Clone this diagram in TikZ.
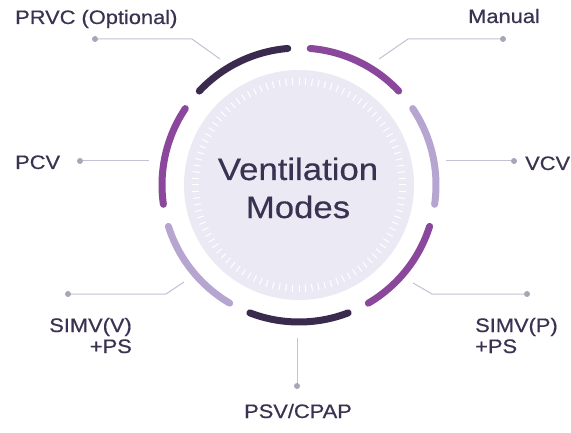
\documentclass[tikz,border=0pt]{standalone}
\usepackage{fontspec}
\setmainfont[FakeStretch=1.12,FakeBold=0.5]{Liberation Sans}
\usetikzlibrary{calc}
\definecolor{arcdark}{HTML}{3A2B4E}
\definecolor{arcpurple}{HTML}{8B479B}
\definecolor{arclight}{HTML}{B6A5D0}
\definecolor{discfill}{HTML}{EBE9F4}
\definecolor{txt}{HTML}{3A3250}
\definecolor{conline}{HTML}{C5C1D2}
\definecolor{condot}{HTML}{A9A5B9}
\tikzset{
  ringarc/.style={line width=7pt, line cap=round},
  lbl/.style={inner sep=0pt, text=txt, font=\fontsize{19.5}{22}\selectfont},
  title/.style={inner sep=0pt, text=txt, font=\fontsize{31}{36}\selectfont},
  conn/.style={draw=conline, line width=1pt},
  dotmark/.style={circle, fill=condot, inner sep=0pt, minimum size=6pt},
  tickmark/.style={draw=white, line width=1pt},
}
\begin{document}
\begin{tikzpicture}[x=1pt,y=1pt]
\useasboundingbox (0,0) rectangle (571,432);
\fill[white] (0,0) rectangle (571,432);
\coordinate (c) at (299,247);
% disc
\fill[discfill] (c) circle[radius=115];
\foreach \a in {0,3.6,...,356.5}
  \draw[tickmark] ($(c)+(\a:100)$) -- ($(c)+(\a:107)$);
% ring arcs
\def\R{137}
\foreach \s/\e/\col in {-111/-69/arcdark, -59.6/-17.6/arcpurple, -8.1/33.9/arclight,
  43.3/85.3/arcpurple, 94.7/136.7/arcdark, 146.1/188.1/arcpurple, 197.6/239.6/arclight}
  \draw[ringarc, draw=\col] ($(c)+(\s:\R)$) arc[start angle=\s, end angle=\e, radius=\R];
% center text
\node[title, anchor=base] (t1) at (298,252) {Ventilation};
\node[title, anchor=base] (t2) at (298,214) {Modes};
% labels
\node[lbl, anchor=base west] (prvc) at (15,408) {PRVC (Optional)};
\node[lbl, anchor=base west] (manual) at (468,409) {Manual};
\node[lbl, anchor=base west] (vcv) at (525,262) {VCV};
\node[lbl, anchor=base west] (pcv) at (15,263) {PCV};
\node[lbl, anchor=base east] (simvv1) at (132,100) {SIMV(V)};
\node[lbl, anchor=base east] (simvv2) at (132,79) {+PS};
\node[lbl, anchor=base west] (simvp1) at (475,100) {SIMV(P)};
\node[lbl, anchor=base west] (simvp2) at (475,79) {+PS};
\node[lbl, anchor=base] (psv) at (298,14) {PSV/CPAP};
% connector coordinates
\coordinate (prvcA) at (220,373); \coordinate (prvcB) at (192,393);
\node[dotmark] (prvcD) at (95,393) {};
\coordinate (manA) at (379,373); \coordinate (manB) at (408,393);
\node[dotmark] (manD) at (503,393) {};
\coordinate (vcvA) at (446,271);
\node[dotmark] (vcvD) at (514,271) {};
\coordinate (pcvA) at (149,271);
\node[dotmark] (pcvD) at (80,271) {};
\coordinate (svA) at (184,150); \coordinate (svB) at (166,138);
\node[dotmark] (svD) at (68,138) {};
\coordinate (spA) at (413,149); \coordinate (spB) at (432,138);
\node[dotmark] (spD) at (527,138) {};
\coordinate (psvA) at (297,94);
\node[dotmark] (psvD) at (297,46) {};
% connectors
\draw[conn] (prvcA) -- (prvcB) -- (prvcD);
\draw[conn] (manA) -- (manB) -- (manD);
\draw[conn] (vcvA) -- (vcvD);
\draw[conn] (pcvA) -- (pcvD);
\draw[conn] (svA) -- (svB) -- (svD);
\draw[conn] (spA) -- (spB) -- (spD);
\draw[conn] (psvA) -- (psvD);
\end{tikzpicture}
\end{document}
